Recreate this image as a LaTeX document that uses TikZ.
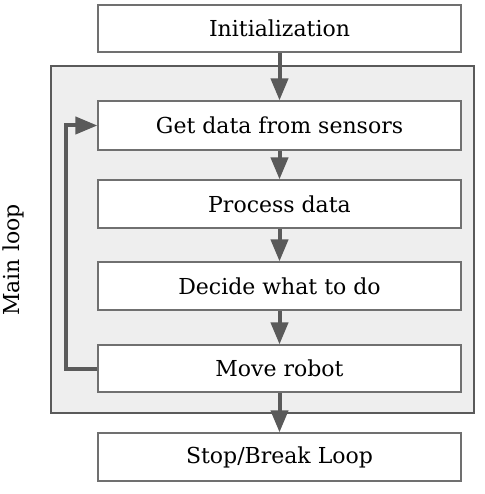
\documentclass[tikz,border=0pt]{standalone}
\usepackage{fontspec}
\setmainfont{DejaVu Serif}
\usetikzlibrary{arrows.meta}
\definecolor{linegray}{HTML}{5A5A5A}
\definecolor{boxgray}{HTML}{707070}
\definecolor{loopfill}{HTML}{EEEEEE}
\tikzset{
  stepbox/.style={draw=boxgray, line width=1.2pt, fill=white, minimum width=363pt, minimum height=48pt, inner sep=0pt},
  loopbox/.style={draw=linegray, line width=2pt, fill=loopfill, inner sep=0pt},
  flow/.style={draw=linegray, line width=4pt, -{Triangle[length=22pt,width=17pt]}}
}
\begin{document}
\begin{tikzpicture}[x=1pt, y=-1pt, font=\fontsize{22}{26}\selectfont, line join=miter]
					%%%%%%%%%%%%%%%%%%%%%%%%%%%%%%%%%
					\useasboundingbox (0,0) rectangle (484,494);
					\node[loopbox, minimum width=423pt, minimum height=347pt] (loop) at (262.5,239.5) {};
					\node[rotate=90] (looplabel) at (13,260) {Main loop};
					%%%%%%%%%%%%%%%%%%%%%%%%%%%%%%%%%
					\node[stepbox, minimum height=47pt] (init) at (279.5,28.5) {Initialization};
					\node[stepbox, minimum height=49pt] (get) at (279.5,125.5) {Get data from sensors};
					\node[stepbox] (proc) at (279.5,204) {Process data};
					\node[stepbox] (decide) at (279.5,286) {Decide what to do};
					\node[stepbox, minimum height=47pt] (move) at (279.5,368.5) {Move robot};
					\node[stepbox] (stop) at (279.5,457) {Stop/Break Loop};
					%%%%%%%%%%%%%%%%%%%%%%%%%%%%%%%%%
					\draw[flow] (init) -- (get);
					\draw[flow] (get) -- (proc);
					\draw[flow] (proc) -- (decide);
					\draw[flow] (decide) -- (move);
					\draw[flow] (move) -- (stop);
					\draw[flow] (move.west) -- ++(-31,0) |- (get.west);
					%%%%%%%%%%%%%%%%%%%%%%%%%%%%%%%%%
\end{tikzpicture}
\end{document}
